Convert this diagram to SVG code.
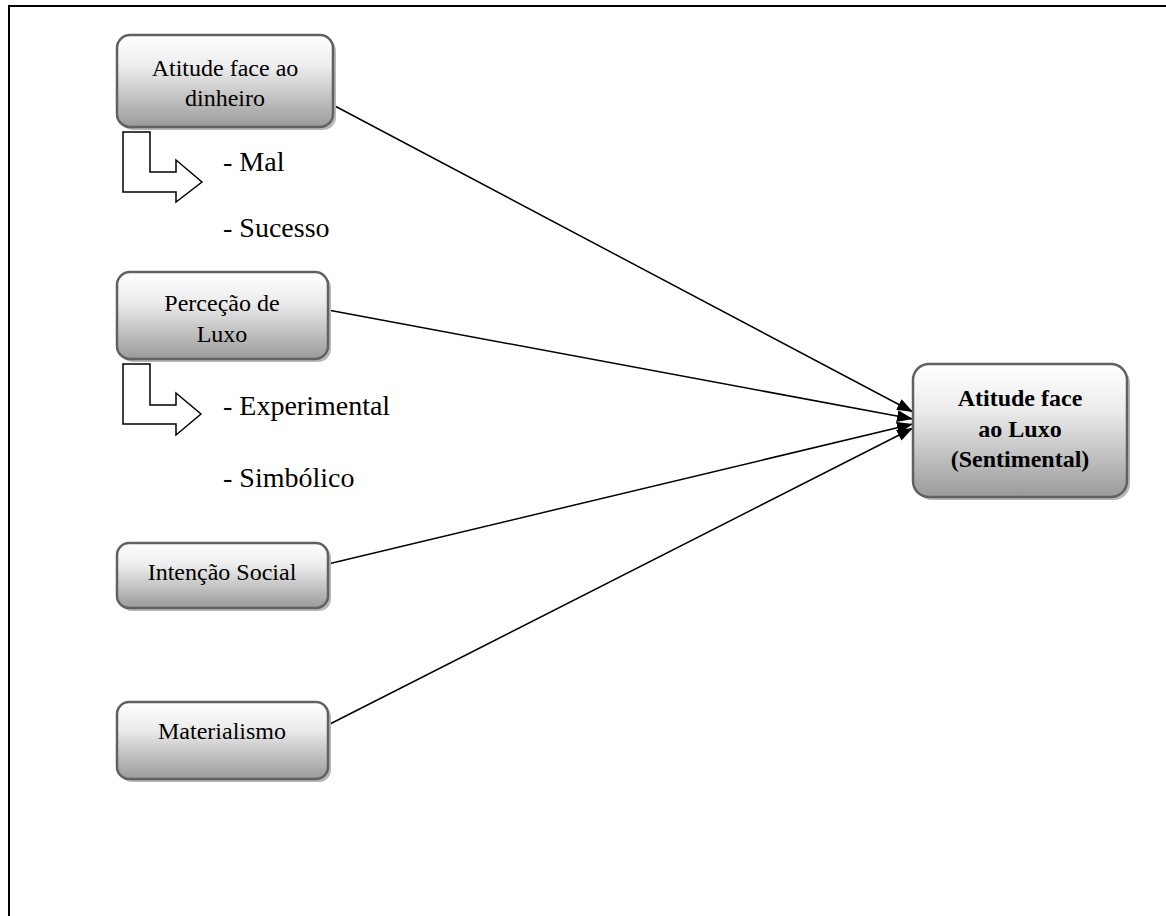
<svg xmlns="http://www.w3.org/2000/svg" width="1166" height="916" viewBox="0 0 1166 916">
<defs>
<linearGradient id="g" x1="0" y1="0" x2="0" y2="1">
<stop offset="0" stop-color="#ffffff"/>
<stop offset="0.35" stop-color="#ececec"/>
<stop offset="1" stop-color="#9a9a9a"/>
</linearGradient>
<marker id="ah" markerWidth="16" markerHeight="12" refX="16" refY="6" orient="auto" markerUnits="userSpaceOnUse">
<path d="M0,0 L16,6 L0,12 Z" fill="#000"/>
</marker>
</defs>
<style>
.box{fill:url(#g);stroke:#616161;stroke-width:2.5}
.sh{fill:#b8b8b8}
.t{font-family:"Liberation Serif","DejaVu Serif",serif;font-size:24px;fill:#000;text-anchor:middle}
.b{font-weight:bold}
.d{font-family:"Liberation Serif","DejaVu Serif",serif;font-size:28px;fill:#000}
.con{stroke:#000;stroke-width:1.5;fill:none;marker-end:url(#ah)}
.bent{fill:#fff;stroke:#000;stroke-width:1.5}
</style>
<rect width="1166" height="916" fill="#fff"/>
<path d="M9,916 V6 H1166" fill="none" stroke="#000" stroke-width="2"/>

<g id="connectors">
<line class="con" x1="333" y1="105" x2="913" y2="412"/>
<line class="con" x1="328" y1="310" x2="913" y2="419"/>
<line class="con" x1="328" y1="564" x2="913" y2="424"/>
<line class="con" x1="328" y1="725" x2="913" y2="428"/>
</g>

<g id="node-dinheiro">
<rect class="sh" x="120" y="38" width="216" height="92" rx="13"/>
<rect class="box" x="117" y="35" width="216" height="92" rx="13"/>
<text class="t" x="225" y="76">Atitude face ao</text>
<text class="t" x="225" y="106">dinheiro</text>
</g>

<g id="bent1">
<path class="bent" d="M123,132 H150 V172 H176 V160 L202,182 L176,202 V192 H123 Z"/>
<text class="d" x="223" y="171">- Mal</text>
<text class="d" x="223" y="237">- Sucesso</text>
</g>

<g id="node-percecao">
<rect class="sh" x="120" y="275" width="211" height="87" rx="13"/>
<rect class="box" x="117" y="272" width="211" height="87" rx="13"/>
<text class="t" x="222" y="311">Perceção de</text>
<text class="t" x="222" y="342">Luxo</text>
</g>

<g id="bent2">
<path class="bent" d="M123,364 H150 V405 H176 V393 L201,414 L176,435 V424 H123 Z"/>
<text class="d" x="223" y="415">- Experimental</text>
<text class="d" x="223" y="487">- Simbólico</text>
</g>

<g id="node-intencao">
<rect class="sh" x="120" y="546" width="211" height="65" rx="12"/>
<rect class="box" x="117" y="543" width="211" height="65" rx="12"/>
<text class="t" x="222" y="580">Intenção Social</text>
</g>

<g id="node-materialismo">
<rect class="sh" x="120" y="705" width="211" height="77" rx="12"/>
<rect class="box" x="117" y="702" width="211" height="77" rx="12"/>
<text class="t" x="222" y="739">Materialismo</text>
</g>

<g id="node-atitude-luxo">
<rect class="sh" x="916" y="367" width="214" height="133" rx="16"/>
<rect class="box" x="913" y="364" width="214" height="133" rx="16"/>
<text class="t b" x="1020" y="406">Atitude face</text>
<text class="t b" x="1020" y="437">ao Luxo</text>
<text class="t b" x="1020" y="467">(Sentimental)</text>
</g>
</svg>
